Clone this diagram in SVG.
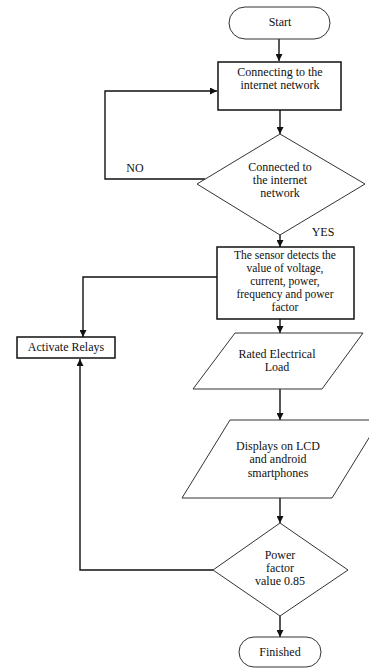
<svg xmlns="http://www.w3.org/2000/svg" width="369" height="670" viewBox="0 0 369 670">
<style>
.t{font-family:"Liberation Serif","Times New Roman",serif;font-size:12px;fill:#111;text-anchor:middle}
.s{font-size:11.5px}
.box{fill:#fff;stroke:#111;stroke-width:1.5}
.shp{fill:#fff;stroke:#333;stroke-width:1}
.ln{fill:none;stroke:#111;stroke-width:1.4}
</style>
<defs>
<marker id="ah" viewBox="0 0 10 10" refX="10" refY="5" markerWidth="7" markerHeight="7" markerUnits="userSpaceOnUse" orient="auto">
<path d="M0,0 L10,5 L0,10 z" fill="#111"/>
</marker>
</defs>
<rect width="369" height="670" fill="#fff"/>
<g id="connectors">
<line class="ln" x1="279" y1="39" x2="279" y2="61" marker-end="url(#ah)"/>
<line class="ln" x1="280" y1="110" x2="280" y2="134" marker-end="url(#ah)"/>
<polyline class="ln" points="205,179 105,179 105,91 217,91" marker-end="url(#ah)"/>
<line class="ln" x1="280" y1="235" x2="280" y2="247" marker-end="url(#ah)"/>
<polyline class="ln" points="217,277 83,277 83,337" marker-end="url(#ah)"/>
<line class="ln" x1="280" y1="319" x2="280" y2="333" marker-end="url(#ah)"/>
<line class="ln" x1="280" y1="389" x2="280" y2="420" marker-end="url(#ah)"/>
<line class="ln" x1="280" y1="498" x2="280" y2="523" marker-end="url(#ah)"/>
<polyline class="ln" points="213,570 80,570 80,359" marker-end="url(#ah)"/>
<line class="ln" x1="280" y1="616" x2="280" y2="637" marker-end="url(#ah)"/>
<text class="t" x="135" y="172">NO</text>
<text class="t" x="323" y="236">YES</text>
</g>
<g id="start">
<rect class="shp" x="229" y="7" width="101" height="32" rx="16"/>
<text class="t" x="280" y="26">Start</text>
</g>
<g id="connecting">
<rect class="box" x="218" y="62" width="123" height="48"/>
<text class="t" x="280" y="76">Connecting to the</text>
<text class="t" x="280" y="89">internet network</text>
</g>
<g id="connected">
<polygon class="shp" points="280,134 365,184 280,235 197,184"/>
<text class="t" x="280" y="171">Connected to</text>
<text class="t" x="280" y="184">the internet</text>
<text class="t" x="280" y="197">network</text>
</g>
<g id="sensor">
<rect class="box" x="217" y="247" width="137" height="72"/>
<text class="t s" x="285" y="259">The sensor detects the</text>
<text class="t s" x="285" y="272">value of voltage,</text>
<text class="t s" x="285" y="285">current, power,</text>
<text class="t s" x="285" y="298">frequency and power</text>
<text class="t s" x="285" y="311">factor</text>
</g>
<g id="relays">
<rect class="box" x="17" y="337" width="98" height="21"/>
<text class="t" x="66" y="351">Activate Relays</text>
</g>
<g id="rated">
<polygon class="shp" points="235,333 363,333 322,389 193,389"/>
<text class="t" x="277" y="358">Rated Electrical</text>
<text class="t" x="277" y="371">Load</text>
</g>
<g id="displays">
<polygon class="shp" points="230,420 380,420 332,498 182,498"/>
<text class="t" x="278" y="450">Displays on LCD</text>
<text class="t" x="278" y="463">and android</text>
<text class="t" x="278" y="477">smartphones</text>
</g>
<g id="pf">
<polygon class="shp" points="280,523 348,570 280,616 213,570"/>
<text class="t" x="280" y="559">Power</text>
<text class="t" x="280" y="572">factor</text>
<text class="t" x="280" y="585">value 0.85</text>
</g>
<g id="finished">
<rect class="shp" x="239" y="637" width="82" height="30" rx="15"/>
<text class="t" x="280" y="656">Finished</text>
</g>
</svg>
